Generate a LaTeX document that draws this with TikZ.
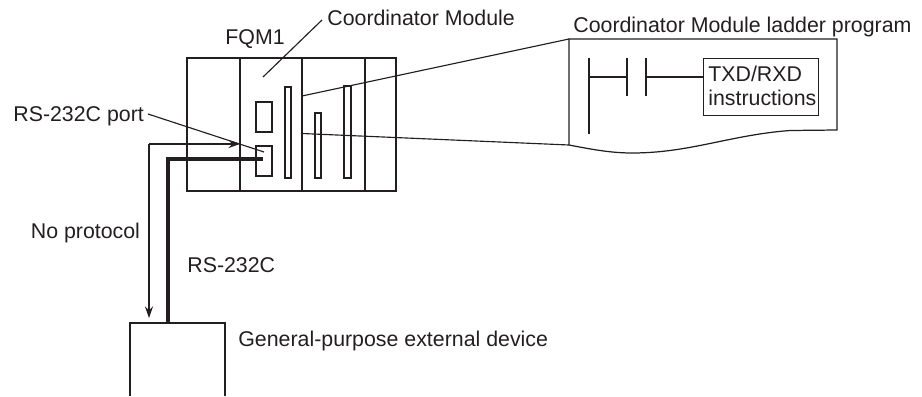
\documentclass[tikz,border=0pt]{standalone}
\usepackage{fontspec}
\setmainfont{Liberation Sans}
\usetikzlibrary{arrows.meta}
\definecolor{inkblack}{RGB}{35,31,32}
\begin{document}
\begin{tikzpicture}[x=0.02cm, y=-0.02cm, >={Stealth[length=6.6pt,width=4.6pt]},
    every node/.append style={font=\fontsize{12.15}{14}\selectfont, text=inkblack, inner sep=0pt},
    label/.style={anchor=base west},
    frame/.style={draw=inkblack, line width=0.85pt},
    slot/.style={draw=inkblack, line width=0.7pt},
    fine/.style={draw=inkblack, line width=0.65pt},
    signal/.style={->, draw=inkblack, line width=0.65pt},
    cable/.style={draw=inkblack, line width=2pt}]
  \useasboundingbox (0,0) rectangle (922,396);

  % ---------------- FQM1 rack ----------------
  \coordinate (rack-nw) at (187,58);
  \coordinate (rack-se) at (396,191);
  \foreach \x in {240,302,365}
    \draw[frame] (\x,58) -- (\x,191);
  \draw[frame] (rack-nw) rectangle (rack-se);
  \foreach \x/\t/\r/\b in {285/87/291/178, 315/113/321/178, 344/86/351/178, 256/102/272/132, 256/146/272/176}
    \draw[slot] (\x,\t) rectangle (\r,\b);

  % ---------------- program window ----------------
  \coordinate (win-nw) at (569,39);
  \coordinate (win-ne) at (837,39);
  \coordinate (win-se) at (837,130);
  \coordinate (win-sw) at (569,145);
  \coordinate (zoom-a) at (302,96);
  \coordinate (zoom-b) at (302,133.5);
  \draw[fine] (zoom-a) -- (win-nw);
  \draw[fine] (zoom-b) -- (win-sw);
  \draw[slot] (win-sw) -- (win-nw) -- (win-ne) -- (win-se) -- (790,130.5)
    .. controls (730,135) and (690,153) .. (632,153) .. controls (610,153) and (590,149) .. (win-sw);

  % ladder rung
  \coordinate (rail-top) at (589,58);
  \coordinate (rail-bot) at (589,134);
  \coordinate (rung-a) at (589,77);
  \coordinate (rung-b) at (627,77);
  \coordinate (rung-c) at (646,77);
  \draw[fine] (rail-top) -- (rail-bot);
  \draw[fine] (rung-a) -- (rung-b);
  \draw[fine] (627,58) -- (627,96);
  \draw[fine] (646,58) -- (646,96);
  \node[fine, minimum width=2.3cm, minimum height=1.14cm, anchor=north west] (instr) at (703,58) {};
  \draw[fine] (rung-c) -- (rung-c -| instr.west);
  \node[label] (instr-1) at (708,81) {TXD/RXD};
  \node[label] (instr-2) at (708,105) {instructions};

  % ---------------- external device and cables ----------------
  \coordinate (dev-sw) at (130,396);
  \coordinate (dev-nw) at (130,323);
  \coordinate (dev-ne) at (225,323);
  \coordinate (dev-se) at (225,396);
  \draw[slot] (dev-sw) -- (dev-nw) -- (dev-ne) -- (dev-se);

  \coordinate (port-in) at (263,159);
  \coordinate (port-bend) at (168,159);
  \coordinate (dev-in) at (168,323);
  \draw[cable] (port-in) -- (port-bend) -- (dev-in);
  \coordinate (no-start) at (240,144);
  \coordinate (no-bend) at (149,144);
  \coordinate (no-end) at (149,318);
  \draw[signal] (no-bend) -- (no-start);
  \draw[signal] (no-bend) -- (no-end);

  % ---------------- labels and leaders ----------------
  \node[label] (fqm) at (225,44) {FQM1};
  \node[label] (coord) at (327,25) {Coordinator Module};
  \node[label] (ladder) at (573,32) {Coordinator Module ladder program};
  \node[label] (port) at (13,121) {RS-232C port};
  \node[label] (noproto) at (30.5,238) {No protocol};
  \node[label] (rs) at (187,272) {RS-232C};
  \node[label] (device) at (238,346) {General-purpose external device};

  \coordinate (coord-tip) at (263,77);
  \coordinate (coord-end) at (322,20);
  \coordinate (port-end) at (148,114);
  \coordinate (port-tip) at (264,152);
  \draw[fine] (coord-tip) -- (coord-end);
  \draw[fine] (port-end) -- (port-tip);
\end{tikzpicture}
\end{document}
